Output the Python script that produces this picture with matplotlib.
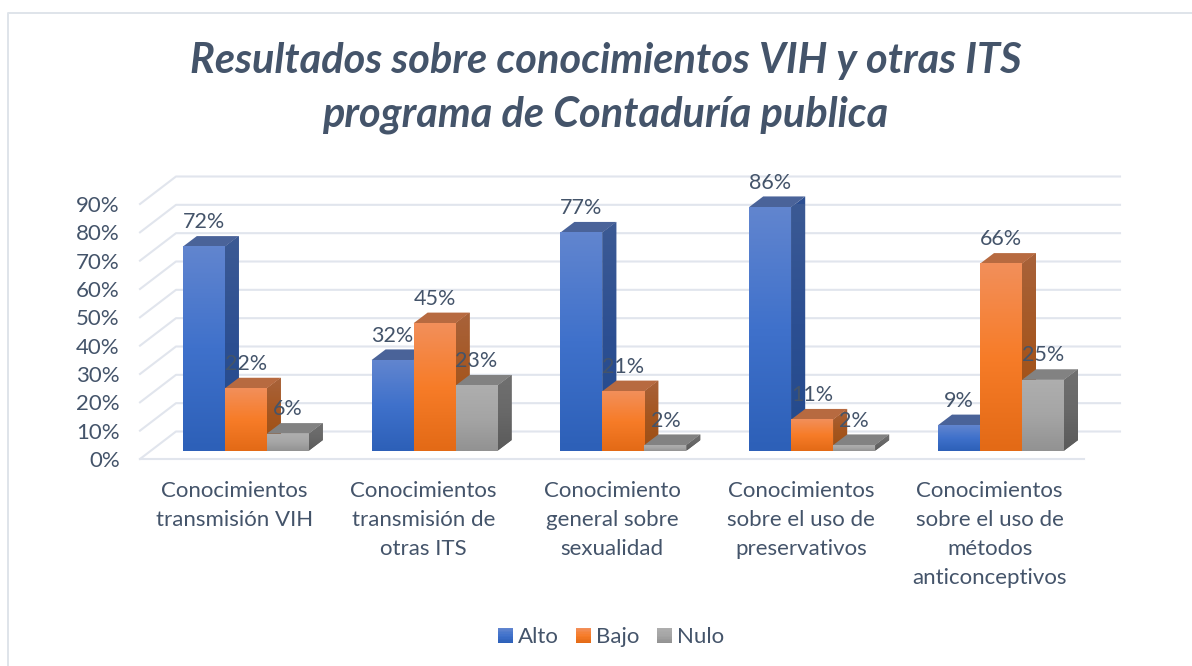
import numpy as np
import matplotlib
matplotlib.use("Agg")
import matplotlib.pyplot as plt
from matplotlib.patches import Polygon, Rectangle
from matplotlib.legend_handler import HandlerPatch
from matplotlib.colors import LinearSegmentedColormap

title = "Resultados sobre conocimientos VIH y otras ITS\nprograma de Contaduría publica"
categories = ["Conocimientos\ntransmisión VIH",
              "Conocimientos\ntransmisión de\notras ITS",
              "Conocimiento\ngeneral sobre\nsexualidad",
              "Conocimientos\nsobre el uso de\npreservativos",
              "Conocimientos\nsobre el uso de\nmétodos\nanticonceptivos"]
series_names = ["Alto", "Bajo", "Nulo"]
alto = [72, 32, 77, 86, 9]
bajo = [22, 45, 21, 11, 66]
nulo = [6, 23, 2, 2, 25]
y_ticks = [0, 10, 20, 30, 40, 50, 60, 70, 80, 90]

front_grad = [["#6185cf", "#3f71cb", "#2d60b8"],
              ["#f28f5a", "#f77c28", "#e36a16"],
              ["#aeaeae", "#a5a5a5", "#929292"]]
side_grad = [["#3c5a94", "#2c4f92", "#234a8c"],
             ["#a8623a", "#a5561f", "#9c4f15"],
             ["#707070", "#686868", "#5a5a5a"]]
top_col = ["#4a6399", "#b76a40", "#828282"]
text_col = "#44546a"
grid_col = "#e1e5ed"
border_col = "#dfe4ea"

W, H = 1192, 666
L_PX, R_PX, Y0_PX, Y90_PX = 140.0, 1084.0, 459.0, 204.0

plt.rcParams["font.family"] = ["Lato", "DejaVu Sans"]
fig = plt.figure(figsize=(W / 100, H / 100), dpi=100, facecolor="white")
ax = fig.add_axes([L_PX / W, 1 - Y0_PX / H, (R_PX - L_PX) / W, (Y0_PX - Y90_PX) / H])
ax.set_xlim(-0.5, 4.5)
ax.set_ylim(0, 90)
ax.patch.set_alpha(0)
for s in ax.spines.values():
    s.set_visible(False)

ux = 5.0 / (R_PX - L_PX)      # data units per pixel, x
uy = 90.0 / (Y0_PX - Y90_PX)  # data units per pixel, y

# chart frame: top and left edges only
fig.add_artist(plt.Line2D([8 / W, 8 / W, 1], [0, 1 - 13 / H, 1 - 13 / H], color=border_col, lw=1.4))

# walls
for v in y_ticks:
    ax.plot([-0.5, -0.5 + 36 * ux, 4.5 + 36 * ux], [v, v + 27.5 * uy, v + 27.5 * uy],
            color=grid_col, lw=1.5, clip_on=False, zorder=1)
ax.plot([-0.5, 4.5], [0, 0], color=grid_col, lw=1.5, clip_on=False, zorder=1)

# bars
bw = 42.0 * ux
base_dx, base_dy = 11.4 * ux, 8.3 * uy
dep_x, dep_y = 14.0 * ux, 10.6 * uy
z = 2
for j, vals in enumerate([alto, bajo, nulo]):
    cmap = LinearSegmentedColormap.from_list("g%d" % j, front_grad[j][::-1])
    smap = LinearSegmentedColormap.from_list("s%d" % j, side_grad[j][::-1])
    for i, v in enumerate(vals):
        x0 = i + (j - 1.5) * bw + base_dx
        x1 = x0 + bw
        y0, y1 = base_dy, base_dy + v
        side = Polygon([(x1, y0), (x1 + dep_x, y0 + dep_y), (x1 + dep_x, y1 + dep_y), (x1, y1)],
                       closed=True, fc=side_grad[j][1], ec="none", clip_on=False, zorder=z)
        ax.add_patch(side)
        im = ax.imshow(np.linspace(1, 0, 64).reshape(-1, 1), cmap=smap, vmin=0, vmax=1, aspect="auto",
                       extent=(x1, x1 + dep_x, y0, y1 + dep_y), zorder=z + 0.1, interpolation="bilinear")
        im.set_clip_path(side)
        ax.add_patch(Polygon([(x0, y1), (x1, y1), (x1 + dep_x, y1 + dep_y), (x0 + dep_x, y1 + dep_y)],
                             closed=True, fc=top_col[j], ec="none", clip_on=False, zorder=z + 0.2))
        ax.bar(x0, v, width=bw, bottom=y0, align="edge", color=front_grad[j][1], zorder=z + 0.5)
        ax.imshow(np.linspace(1, 0, 64).reshape(-1, 1), cmap=cmap, vmin=0, vmax=1, aspect="auto",
                  extent=(x0, x1, y0, y1), zorder=z + 0.6, interpolation="bilinear")
        z += 1

# value labels
for j, vals in enumerate([alto, bajo, nulo]):
    for i, v in enumerate(vals):
        xc = i + (j - 1.5) * bw + base_dx + bw / 2
        ax.annotate("%d%%" % v, (xc, base_dy + v), xytext=(0, 24.5 * 0.72), textcoords="offset points",
                    ha="center", va="center", fontsize=15.5, color=text_col, zorder=100,
                    annotation_clip=False)

ax.set_xlim(-0.5, 4.5)
ax.set_ylim(0, 90)
ax.set_xticks(range(5))
ax.set_xticklabels(categories, fontsize=16, color=text_col, linespacing=1.57)
ax.set_yticks(y_ticks)
ax.set_yticklabels(["%d%%" % v for v in y_ticks], fontsize=16, color=text_col)
ax.tick_params(axis="both", length=0)
ax.tick_params(axis="x", pad=15.5)
ax.tick_params(axis="y", pad=14.5)

fig.text(605.5 / W, 1 - 88.5 / H, title, ha="center", va="center", fontsize=29.9, fontweight="bold",
         fontstyle="italic", color=text_col, linespacing=1.5)


class GradHandler(HandlerPatch):
    def __init__(self, cols):
        super().__init__()
        self.cols = cols

    def create_artists(self, legend, orig, xd, yd, w, h, fs, trans):
        n = 10
        cm = LinearSegmentedColormap.from_list("l", self.cols)
        side = min(w, h * 1.15)
        return [Rectangle((-xd + (w - side) / 2, -yd + h - (k + 1) * side / n + (side - h) / 2), side, side / n + 0.2,
                          fc=cm(k / (n - 1)), ec="none", transform=trans) for k in range(n)]


proxies = [Rectangle((0, 0), 1, 1, fc=front_grad[j][1]) for j in range(3)]
fig.legend(proxies, series_names, loc="center", bbox_to_anchor=(611 / W, 1 - 637 / H), ncol=3,
           frameon=False, fontsize=16, labelcolor=text_col, handlelength=0.68, handleheight=0.9,
           handletextpad=0.23, columnspacing=0.77,
           handler_map={proxies[j]: GradHandler(front_grad[j]) for j in range(3)})

fig.savefig("out.png", dpi=100)
